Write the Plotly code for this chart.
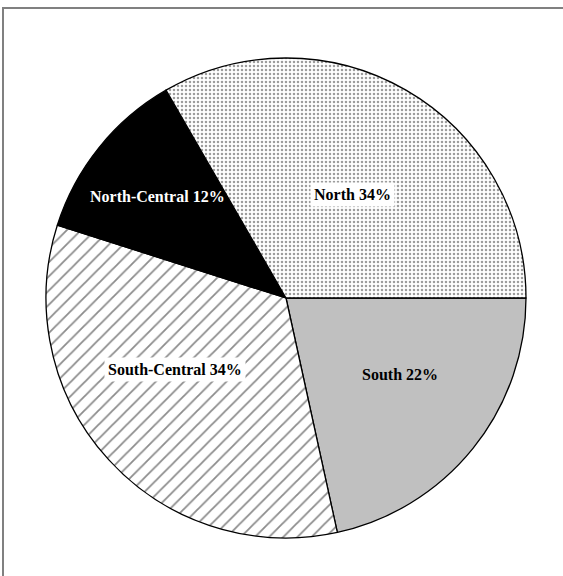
import math
import plotly.graph_objects as go

# Regional shares (percent), listed counterclockwise from 3 o'clock
regions = ["North", "North-Central", "South-Central", "South"]
shares = [34, 12, 34, 22]

# Per-slice fill styling
fill_colors = ["white", "black", "white", "#c0c0c0"]
pattern_shapes = [".", "", "/", ""]
pattern_fg = ["#3a3a3a", "black", "#1a1a1a", "#c0c0c0"]
pattern_size = [4, 8, 10, 8]
pattern_solidity = [0.32, 0.3, 0.18, 0.3]

# Label placement relative to each slice: fraction of radius, angle nudge (deg)
label_radius = [0.515, 0.685, 0.55, 0.57]
label_nudge = [-2.8, 0.5, -9.4, 5.0]
label_color = ["black", "white", "black", "black"]
label_bg = ["white", "rgba(0,0,0,0)", "white", "rgba(0,0,0,0)"]

W, H = 563, 576
CX, CY, R = 286, 298, 240  # pie centre and radius in pixels


def rev(seq):
    return list(reversed(seq))


# Drawn clockwise from 3 o'clock, so feed the slices in reverse order
fig = go.Figure()
fig.add_trace(go.Pie(
    labels=rev(regions),
    values=rev(shares),
    sort=False,
    direction="clockwise",
    rotation=90,
    textinfo="none",
    hoverinfo="label+percent",
    showlegend=False,
    marker=dict(
        colors=rev(fill_colors),
        line=dict(color="black", width=1.3),
        pattern=dict(
            shape=rev(pattern_shapes),
            fgcolor=rev(pattern_fg),
            bgcolor=rev(fill_colors),
            size=rev(pattern_size),
            solidity=rev(pattern_solidity),
            fillmode="overlay",
        ),
    ),
    domain=dict(x=[(CX - R) / W, (CX + R) / W],
                y=[(H - CY - R) / H, (H - CY + R) / H]),
))

# Slice labels positioned from the slice angles (counterclockwise from 3 o'clock)
total = sum(shares)
start = 0.0
for i, (name, v) in enumerate(zip(regions, shares)):
    span = 360.0 * v / total
    mid = math.radians(start + span / 2 + label_nudge[i])
    start += span
    px = CX + R * label_radius[i] * math.cos(mid)
    py = CY - R * label_radius[i] * math.sin(mid)
    fig.add_annotation(
        x=px / W, y=1 - py / H, xref="paper", yref="paper",
        xanchor="center", yanchor="middle",
        text=f"<b>{name} {v}%</b>", showarrow=False,
        font=dict(family="Liberation Serif", size=16, color=label_color[i]),
        bgcolor=label_bg[i], borderpad=3,
    )

# Outer chart frame
fig.add_shape(type="rect", xref="paper", yref="paper",
              x0=3 / W, x1=1.01, y0=-0.01, y1=1 - 8 / H,
              line=dict(color="#808080", width=2), fillcolor="rgba(0,0,0,0)")

fig.update_layout(
    width=W, height=H,
    margin=dict(l=0, r=0, t=0, b=0),
    paper_bgcolor="white",
    plot_bgcolor="white",
)

fig.write_html("out.html")
